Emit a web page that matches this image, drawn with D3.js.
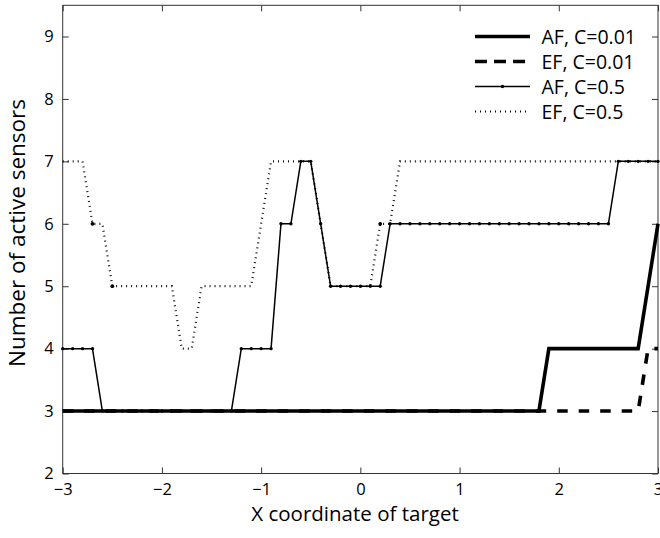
<!DOCTYPE html>
<html>
<head>
<meta charset="utf-8">
<script src="https://cdn.jsdelivr.net/npm/d3@7"></script>
<style>
  html, body { margin: 0; padding: 0; background: #fff; }
  svg { display: block; font-family: "Open Sans", "Noto Sans", sans-serif; }
</style>
</head>
<body>
<svg id="chart" width="660" height="538"></svg>
<script>
// Target x coordinate, sampled every 0.1 from -3 to 3
const xCoord = [
  -3.0, -2.9, -2.8, -2.7, -2.6, -2.5, -2.4, -2.3, -2.2, -2.1,
  -2.0, -1.9, -1.8, -1.7, -1.6, -1.5, -1.4, -1.3, -1.2, -1.1,
  -1.0, -0.9, -0.8, -0.7, -0.6, -0.5, -0.4, -0.3, -0.2, -0.1,
   0.0,  0.1,  0.2,  0.3,  0.4,  0.5,  0.6,  0.7,  0.8,  0.9,
   1.0,  1.1,  1.2,  1.3,  1.4,  1.5,  1.6,  1.7,  1.8,  1.9,
   2.0,  2.1,  2.2,  2.3,  2.4,  2.5,  2.6,  2.7,  2.8,  2.9,
   3.0
];

// Number of active sensors for each scheme
const afLow = [
  3,3,3,3,3,3,3,3,3,3,
  3,3,3,3,3,3,3,3,3,3,
  3,3,3,3,3,3,3,3,3,3,
  3,3,3,3,3,3,3,3,3,3,
  3,3,3,3,3,3,3,3,3,4,
  4,4,4,4,4,4,4,4,4,5,
  6
];
const efLow = [
  3,3,3,3,3,3,3,3,3,3,
  3,3,3,3,3,3,3,3,3,3,
  3,3,3,3,3,3,3,3,3,3,
  3,3,3,3,3,3,3,3,3,3,
  3,3,3,3,3,3,3,3,3,3,
  3,3,3,3,3,3,3,3,3,4,
  4
];
const afHigh = [
  4,4,4,4,3,3,3,3,3,3,
  3,3,3,3,3,3,3,3,4,4,
  4,4,6,6,7,7,6,5,5,5,
  5,5,5,6,6,6,6,6,6,6,
  6,6,6,6,6,6,6,6,6,6,
  6,6,6,6,6,6,7,7,7,7,
  7
];
const efHigh = [
  7,7,7,6,6,5,5,5,5,5,
  5,5,4,4,5,5,5,5,5,5,
  6,7,7,7,7,7,6,5,5,5,
  5,5,6,6,7,7,7,7,7,7,
  7,7,7,7,7,7,7,7,7,7,
  7,7,7,7,7,7,7,7,7,7,
  7
];
// Points of the EF, C=0.5 curve drawn with a heavier dot
const efHighDots = [-2.7, -2.5, 0.2];

const xTicks = [-3, -2, -1, 0, 1, 2, 3];
const yTicks = [2, 3, 4, 5, 6, 7, 8, 9];
const legendLabels = ["AF, C=0.01", "EF, C=0.01", "AF, C=0.5", "EF, C=0.5"];
const xTitle = "X coordinate of target";
const yTitle = "Number of active sensors";

const plotL = 62.7, plotR = 658, plotT = 5.3, plotB = 473.5;

const svg = d3.select("#chart");
const x = d3.scaleLinear().domain([-3, 3]).range([plotL, plotR]);
const y = d3.scaleLinear().domain([2, 9.5]).range([plotB, plotT]);

const fmt = d => (d < 0 ? "\u2212" + Math.abs(d) : String(d));

// Axes with inward ticks on all four sides
const tickLen = 6;
const gx = svg.append("g").attr("transform", `translate(0,${plotB})`)
  .call(d3.axisBottom(x).tickValues(xTicks).tickFormat(fmt)
    .tickSize(-tickLen).tickSizeOuter(0).tickPadding(10));
const gxt = svg.append("g").attr("transform", `translate(0,${plotT})`)
  .call(d3.axisTop(x).tickValues(xTicks).tickFormat("")
    .tickSize(-tickLen).tickSizeOuter(0));
const gy = svg.append("g").attr("transform", `translate(${plotL},0)`)
  .call(d3.axisLeft(y).tickValues(yTicks).tickFormat(fmt)
    .tickSize(-tickLen).tickSizeOuter(0).tickPadding(9));
const gyr = svg.append("g").attr("transform", `translate(${plotR},0)`)
  .call(d3.axisRight(y).tickValues(yTicks).tickFormat("")
    .tickSize(-tickLen).tickSizeOuter(0));

[gx, gxt, gy, gyr].forEach(g => {
  g.select(".domain").remove();
  g.selectAll(".tick line").attr("stroke", "#333").attr("stroke-width", 1);
  g.selectAll(".tick text").attr("fill", "#000")
    .style("font-family", "'Open Sans', sans-serif").style("font-size", "16.5px");
});

// Plot frame
svg.append("rect")
  .attr("x", plotL).attr("y", plotT)
  .attr("width", plotR - plotL).attr("height", plotB - plotT)
  .attr("fill", "none").attr("stroke", "#333").attr("stroke-width", 1);

const plot = svg.append("g");
const line = d3.line().x(d => x(d[0])).y(d => y(d[1]));
const pts = vals => xCoord.map((xv, i) => [xv, vals[i]]);

// EF, C=0.5 : dotted
plot.append("path").datum(pts(efHigh))
  .attr("d", line).attr("fill", "none").attr("stroke", "#111")
  .attr("stroke-width", 2.2).attr("stroke-dasharray", "1,4");
plot.selectAll("circle.efdot").data(efHighDots).join("circle")
  .attr("class", "efdot")
  .attr("cx", d => x(d))
  .attr("cy", d => y(efHigh[xCoord.findIndex(v => Math.abs(v - d) < 1e-9)]))
  .attr("r", 1.9).attr("fill", "#000");

// AF, C=0.5 : thin solid with point markers
plot.append("path").datum(pts(afHigh))
  .attr("d", line).attr("fill", "none").attr("stroke", "#000")
  .attr("stroke-width", 1.5).attr("stroke-linejoin", "round");
plot.selectAll("circle.afdot").data(pts(afHigh)).join("circle")
  .attr("class", "afdot")
  .attr("cx", d => x(d[0])).attr("cy", d => y(d[1]))
  .attr("r", 1.7).attr("fill", "#000");

// EF, C=0.01 : thick dashed
plot.append("path").datum(pts(efLow))
  .attr("d", line).attr("fill", "none").attr("stroke", "#000")
  .attr("stroke-width", 3.6).attr("stroke-dasharray", "10.5,11");

// AF, C=0.01 : thick solid
plot.append("path").datum(pts(afLow))
  .attr("d", line).attr("fill", "none").attr("stroke", "#000")
  .attr("stroke-width", 3.6).attr("stroke-linejoin", "miter");

// Legend
const legendStyles = [
  { w: 3.6, dash: null, dot: false },
  { w: 3.6, dash: "12,7", dot: false },
  { w: 1.5, dash: null, dot: true },
  { w: 2.2, dash: "1,4", dot: false }
];
const lx0 = 475, lx1 = 530, ly0 = 36.5, lstep = 25;
const leg = svg.append("g");
legendLabels.forEach((lab, i) => {
  const st = legendStyles[i];
  const ly = ly0 + i * lstep;
  const ln = leg.append("line")
    .attr("x1", lx0).attr("x2", lx1).attr("y1", ly).attr("y2", ly)
    .attr("stroke", "#000").attr("stroke-width", st.w);
  if (st.dash) ln.attr("stroke-dasharray", st.dash);
  if (st.dot) leg.append("circle").attr("cx", (lx0 + lx1) / 2).attr("cy", ly)
    .attr("r", 1.7).attr("fill", "#000");
  leg.append("text").attr("x", 541.5).attr("y", ly).attr("dy", "0.36em")
    .style("font-size", "19.5px").attr("fill", "#000").text(lab);
});

// Axis titles
svg.append("text").attr("x", 355).attr("y", 521)
  .attr("text-anchor", "middle").style("font-size", "20.5px")
  .attr("fill", "#000").text(xTitle);
svg.append("text")
  .attr("transform", "translate(25,233) rotate(-90)")
  .attr("text-anchor", "middle").style("font-size", "22.5px")
  .attr("fill", "#000").text(yTitle);
</script>
</body>
</html>
